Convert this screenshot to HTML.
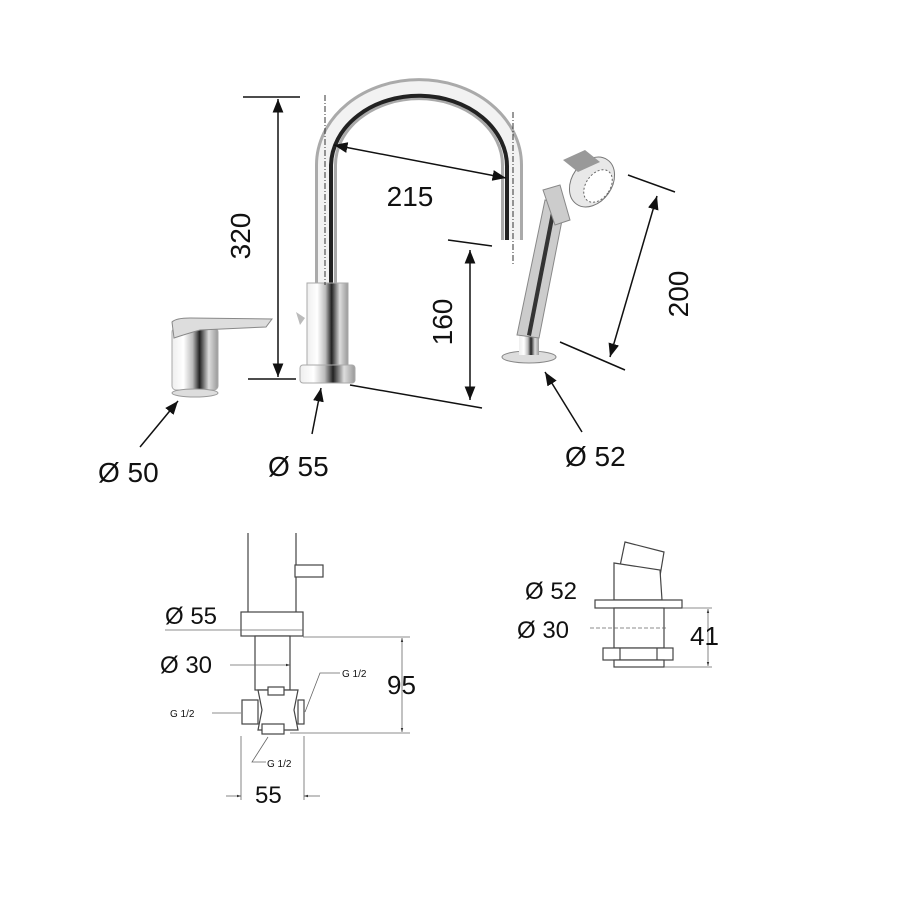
<!DOCTYPE html>
<html><head><meta charset="utf-8"><style>html,body{margin:0;padding:0;background:#fff}svg{display:block}text{font-family:"Liberation Sans",sans-serif;fill:#111}</style></head><body>
<svg width="900" height="900" viewBox="0 0 900 900" xmlns="http://www.w3.org/2000/svg">
<defs>
<linearGradient id="chrome" x1="0" x2="1" y1="0" y2="0">
<stop offset="0" stop-color="#eee"/><stop offset="0.25" stop-color="#fff"/><stop offset="0.45" stop-color="#bbb"/><stop offset="0.6" stop-color="#222"/><stop offset="0.8" stop-color="#ddd"/><stop offset="1" stop-color="#999"/>
</linearGradient>
<marker id="ar" viewBox="0 0 10 10" refX="10" refY="5" markerWidth="9" markerHeight="9" orient="auto-start-reverse"><path d="M0,1 L10,5 L0,9 z" fill="#111"/></marker>
<marker id="sa" viewBox="0 0 10 10" refX="10" refY="5" markerWidth="5" markerHeight="5" orient="auto-start-reverse"><path d="M0,2 L10,5 L0,8 z" fill="#333"/></marker>
</defs>
<!-- spout pipe -->
<path d="M326,290 L326,165 A92,75 0 0 1 512,165 L512,240" fill="none" stroke="#aaa" stroke-width="22"/>
<path d="M326,290 L326,165 A92,75 0 0 1 512,165 L512,240" fill="none" stroke="#f2f2f2" stroke-width="16"/>
<path d="M331,290 L331,165 A87,70 0 0 1 507,168 L507,240" fill="none" stroke="#222" stroke-width="4"/>
<rect x="307" y="283" width="41" height="82" fill="url(#chrome)" stroke="#aaa"/>
<rect x="300" y="365" width="55" height="18" rx="3" fill="url(#chrome)" stroke="#aaa"/>
<path d="M300,325 L296,312 L305,318 Z" fill="#bbb"/>
<line x1="325" y1="95" x2="325" y2="285" stroke="#333" stroke-dasharray="6,2,1,2"/>
<line x1="513" y1="112" x2="513" y2="265" stroke="#333" stroke-dasharray="6,2,1,2"/>
<!-- 320 -->
<line x1="243" y1="97" x2="300" y2="97" stroke="#111" stroke-width="1.5"/>
<line x1="248" y1="379" x2="296" y2="379" stroke="#111" stroke-width="1.5"/>
<line x1="278" y1="99" x2="278" y2="377" stroke="#111" stroke-width="1.5" marker-start="url(#ar)" marker-end="url(#ar)"/>
<text x="0" y="0" font-size="28" text-anchor="middle" transform="translate(250,236) rotate(-90)">320</text>
<!-- 215 -->
<line x1="334" y1="145" x2="506" y2="178" stroke="#111" stroke-width="1.5" marker-start="url(#ar)" marker-end="url(#ar)"/>
<text x="410" y="206" font-size="28" text-anchor="middle">215</text>
<!-- 160 -->
<line x1="448" y1="240" x2="492" y2="246" stroke="#111" stroke-width="1.5"/>
<line x1="470" y1="250" x2="470" y2="400" stroke="#111" stroke-width="1.5" marker-start="url(#ar)" marker-end="url(#ar)"/>
<line x1="350" y1="385" x2="482" y2="408" stroke="#111" stroke-width="1.5"/>
<text x="0" y="0" font-size="28" text-anchor="middle" transform="translate(452,322) rotate(-90)">160</text>
<!-- hand shower -->
<ellipse cx="529" cy="357" rx="27" ry="6" fill="#ddd" stroke="#888"/>
<rect x="519" y="333" width="20" height="22" fill="url(#chrome)"/>
<path d="M517,335 L545,200 L565,205 L539,338 Z" fill="#ccc" stroke="#888"/>
<path d="M527,335 L553,202 L557,203 L531,336 Z" fill="#333"/>
<path d="M543,190 L560,185 L570,220 L555,225 Z" fill="#ccc" stroke="#888"/>
<ellipse cx="592" cy="182" rx="20" ry="27" transform="rotate(35 592 182)" fill="#e8e8e8" stroke="#777"/>
<ellipse cx="598" cy="186" rx="12" ry="18" transform="rotate(35 598 186)" fill="#fff" stroke="#666" stroke-dasharray="2,2"/>
<path d="M563,160 L585,150 L600,162 L578,172 Z" fill="#999"/>
<!-- 200 -->
<line x1="628" y1="175" x2="675" y2="192" stroke="#111" stroke-width="1.5"/>
<line x1="560" y1="342" x2="625" y2="370" stroke="#111" stroke-width="1.5"/>
<line x1="657" y1="196" x2="610" y2="357" stroke="#111" stroke-width="1.5" marker-start="url(#ar)" marker-end="url(#ar)"/>
<text x="0" y="0" font-size="28" text-anchor="middle" transform="translate(688,294) rotate(-90)">200</text>
<!-- mixer -->
<rect x="172" y="328" width="46" height="62" rx="4" fill="url(#chrome)" stroke="#aaa"/>
<ellipse cx="195" cy="393" rx="23" ry="4" fill="#ddd" stroke="#999"/>
<path d="M172,322 Q176,318 190,318 L272,319 L266,327 L200,330 Q186,334 174,338 Z" fill="#ddd" stroke="#888"/>
<!-- Ø labels -->
<line x1="140" y1="447" x2="178" y2="401" stroke="#111" stroke-width="1.5" marker-end="url(#ar)"/>
<text x="98" y="482" font-size="28">Ø 50</text>
<line x1="312" y1="434" x2="321" y2="388" stroke="#111" stroke-width="1.5" marker-end="url(#ar)"/>
<text x="268" y="476" font-size="28">Ø 55</text>
<line x1="582" y1="432" x2="545" y2="372" stroke="#111" stroke-width="1.5" marker-end="url(#ar)"/>
<text x="565" y="466" font-size="28">Ø 52</text>
<!-- bottom left drawing -->
<g stroke="#444" stroke-width="1.2" fill="#fff">
<line x1="248" y1="533" x2="248" y2="612"/><line x1="296" y1="533" x2="296" y2="612"/>
<rect x="295" y="565" width="28" height="12"/>
<rect x="241" y="612" width="62" height="24"/>
<rect x="255" y="636" width="35" height="54"/>
<path d="M258,690 L298,690 L294,710 L298,730 L258,730 L262,710 Z"/>
<rect x="242" y="700" width="16" height="24"/><rect x="298" y="700" width="6" height="24"/>
<rect x="262" y="724" width="22" height="10"/>
<rect x="268" y="687" width="16" height="8"/>
</g>
<g stroke="#666" stroke-width="0.8">
<line x1="165" y1="630" x2="303" y2="630"/>
<line x1="230" y1="665" x2="290" y2="665" marker-end="url(#sa)"/>
<line x1="303" y1="637" x2="410" y2="637"/><line x1="290" y1="733" x2="410" y2="733"/>
<line x1="402" y1="638" x2="402" y2="732" marker-start="url(#sa)" marker-end="url(#sa)"/>
<line x1="241" y1="736" x2="241" y2="800"/><line x1="304" y1="736" x2="304" y2="800"/>
<line x1="226" y1="796" x2="241" y2="796" marker-end="url(#sa)"/><line x1="320" y1="796" x2="304" y2="796" marker-end="url(#sa)"/>
<polyline points="340,673 320,673 305,712" fill="none"/>
<polyline points="212,713 241,713" fill="none"/>
<polyline points="268,737 252,762 266,762" fill="none"/>
</g>
<text x="165" y="624" font-size="24">Ø 55</text>
<text x="160" y="673" font-size="24">Ø 30</text>
<text x="387" y="694" font-size="26">95</text>
<text x="255" y="803" font-size="24">55</text>
<text x="342" y="677" font-size="10" fill="#555">G 1/2</text>
<text x="170" y="717" font-size="10" fill="#555">G 1/2</text>
<text x="267" y="767" font-size="10" fill="#555">G 1/2</text>
<!-- bottom right drawing -->
<g stroke="#444" stroke-width="1.2" fill="#fff">
<path d="M625,542 L664,552 L660,576 L620,566 Z"/>
<path d="M614,563 L660,570 L662,600 L614,600 Z"/>
<rect x="595" y="600" width="87" height="8"/>
<rect x="614" y="608" width="50" height="40"/>
<rect x="603" y="648" width="70" height="12"/>
<line x1="620" y1="648" x2="620" y2="660"/><line x1="657" y1="648" x2="657" y2="660"/>
<rect x="614" y="660" width="50" height="7"/>
</g>
<g stroke="#666" stroke-width="0.8">
<line x1="682" y1="608" x2="712" y2="608"/><line x1="664" y1="667" x2="712" y2="667"/>
<line x1="708" y1="609" x2="708" y2="666" marker-start="url(#sa)" marker-end="url(#sa)"/>
<line x1="590" y1="628" x2="668" y2="628" stroke-dasharray="4,2"/>
</g>
<text x="525" y="599" font-size="24">Ø 52</text>
<text x="517" y="638" font-size="24">Ø 30</text>
<text x="690" y="645" font-size="26">41</text>
</svg>
</body></html>
